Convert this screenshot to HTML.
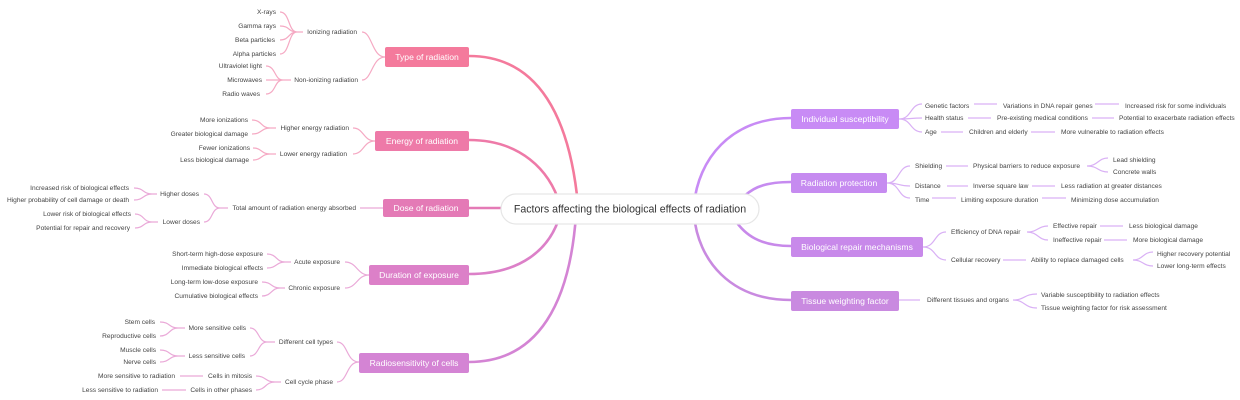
<!DOCTYPE html>
<html><head><meta charset="utf-8"><style>
html,body{margin:0;padding:0;background:#fff;}
svg{display:block;}
text{font-family:"Liberation Sans",sans-serif;font-size:6.6px;fill:#444;dominant-baseline:middle;}
.m{font-size:8.6px;fill:#fff;text-anchor:middle;}
.l{text-anchor:end;}
.lp{fill:none;stroke:#f5a9c3;stroke-width:1.2;}
.lq{fill:none;stroke:#eaa9d8;stroke-width:1.2;}
.rp{fill:none;stroke:#d9b0f5;stroke-width:1.2;}
</style></head><body>
<svg width="1240" height="400" viewBox="0 0 1240 400" xmlns="http://www.w3.org/2000/svg">
<g fill="none" stroke-width="2.6">
<path d="M469 56 C540 56 570 120 578 205" stroke="#f47a9c"/>
<path d="M469 140 C520 140 550 170 560 205" stroke="#ee7aa8"/>
<path d="M469 208 L520 208" stroke="#e47ab6"/>
<path d="M469 274 C520 274 550 250 560 215" stroke="#dc80c8"/>
<path d="M469 362 C540 362 570 300 576 215" stroke="#d484d4"/>
<path d="M791 118 C730 118 698 160 694 205" stroke="#c88bf5"/>
<path d="M791 182 C760 182 750 190 740 200" stroke="#c68bf0"/>
<path d="M791 246 C760 246 745 235 735 220" stroke="#c889ea"/>
<path d="M791 300 C730 300 698 260 694 215" stroke="#c98ae0"/>
</g>
<rect x="501" y="194" width="258" height="30" rx="15" fill="#fff" stroke="#e6e6e6" stroke-width="1.2"/>
<text x="630" y="209.5" style="font-size:10.6px;fill:#333;text-anchor:middle">Factors affecting the biological effects of radiation</text>

<rect x="385" y="47" width="84" height="20" rx="2" fill="#f47a9c"/><text class="m" x="427" y="57.5">Type of radiation</text>
<rect x="375" y="131" width="94" height="20" rx="2" fill="#ee7aa8"/><text class="m" x="422" y="141.5">Energy of radiation</text>
<rect x="383" y="199" width="86" height="18" rx="2" fill="#e47ab6"/><text class="m" x="426" y="208.5">Dose of radiation</text>
<rect x="369" y="265" width="100" height="20" rx="2" fill="#dc80c8"/><text class="m" x="419" y="275.5">Duration of exposure</text>
<rect x="359" y="353" width="110" height="20" rx="2" fill="#d484d4"/><text class="m" x="414" y="363.5">Radiosensitivity of cells</text>
<rect x="791" y="109" width="108" height="20" rx="2" fill="#c88bf5"/><text class="m" x="845" y="119.5">Individual susceptibility</text>
<rect x="791" y="173" width="96" height="20" rx="2" fill="#c68bf0"/><text class="m" x="839" y="183.5">Radiation protection</text>
<rect x="791" y="237" width="132" height="20" rx="2" fill="#c889ea"/><text class="m" x="857" y="247.5">Biological repair mechanisms</text>
<rect x="791" y="291" width="108" height="20" rx="2" fill="#c98ae0"/><text class="m" x="845" y="301.5">Tissue weighting factor</text>

<path class="lp" d="M385 57 C372 57 372 32 362 32 M385 57 C372 57 372 80 362 80"/>
<text class="l" x="357" y="32">Ionizing radiation</text>
<text class="l" x="358" y="80">Non-ionizing radiation</text>
<path class="lp" d="M303 32 L297 32 C288 32 290 12 280 12 M297 32 C288 32 290 26 280 26 M297 32 C288 32 290 40 280 40 M297 32 C288 32 290 54 280 54"/>
<text class="l" x="276" y="12">X-rays</text>
<text class="l" x="276" y="26">Gamma rays</text>
<text class="l" x="275" y="40">Beta particles</text>
<text class="l" x="276" y="54">Alpha particles</text>
<path class="lp" d="M291 80 L283 80 C274 80 276 66 266 66 M283 80 L266 80 M283 80 C274 80 276 94 266 94"/>
<text class="l" x="262" y="66">Ultraviolet light</text>
<text class="l" x="262" y="80">Microwaves</text>
<text class="l" x="260" y="94">Radio waves</text>
<path class="lp" d="M375 141 C363 141 364 128 353 128 M375 141 C363 141 364 154 353 154"/>
<text class="l" x="349" y="128">Higher energy radiation</text>
<text class="l" x="347" y="154">Lower energy radiation</text>
<path class="lp" d="M276 128 L270 128 C261 128 262 120 252 120 M270 128 C261 128 262 134 252 134 M276 154 L270 154 C261 154 262 148 253 148 M270 154 C261 154 262 160 253 160"/>
<text class="l" x="248" y="120">More ionizations</text>
<text class="l" x="248" y="134">Greater biological damage</text>
<text class="l" x="250" y="148">Fewer ionizations</text>
<text class="l" x="249" y="160">Less biological damage</text>
<path class="lq" d="M383 208 L360 208"/>
<text class="l" x="356" y="208">Total amount of radiation energy absorbed</text>
<path class="lq" d="M228 208 L220 208 C211 208 213 194 204 194 M220 208 C211 208 213 222 204 222"/>
<text class="l" x="199" y="194">Higher doses</text>
<text class="l" x="200" y="222">Lower doses</text>
<path class="lq" d="M157 194 L152 194 C143 194 144 188 134 188 M152 194 C143 194 144 200 134 200 M158 222 L152 222 C143 222 144 214 135 214 M152 222 C143 222 144 228 135 228"/>
<text class="l" x="129" y="188">Increased risk of biological effects</text>
<text class="l" x="129" y="200">Higher probability of cell damage or death</text>
<text class="l" x="131" y="214">Lower risk of biological effects</text>
<text class="l" x="130" y="228">Potential for repair and recovery</text>
<path class="lq" d="M369 275 C357 275 357 262 345 262 M369 275 C357 275 357 288 345 288"/>
<text class="l" x="340" y="262">Acute exposure</text>
<text class="l" x="340" y="288">Chronic exposure</text>
<path class="lq" d="M291 262 L285 262 C276 262 277 254 267 254 M285 262 C276 262 277 268 267 268 M285 288 L280 288 C271 288 272 282 262 282 M280 288 C271 288 272 296 262 296"/>
<text class="l" x="263" y="254">Short-term high-dose exposure</text>
<text class="l" x="263" y="268">Immediate biological effects</text>
<text class="l" x="258" y="282">Long-term low-dose exposure</text>
<text class="l" x="258" y="296">Cumulative biological effects</text>
<path class="lq" d="M359 362 C346 362 348 342 337 342 M359 362 C346 362 348 382 337 382"/>
<text class="l" x="333" y="342">Different cell types</text>
<text class="l" x="333" y="382">Cell cycle phase</text>
<path class="lq" d="M275 342 L267 342 C258 342 259 328 250 328 M267 342 C258 342 259 356 250 356"/>
<text class="l" x="246" y="328">More sensitive cells</text>
<text class="l" x="245" y="356">Less sensitive cells</text>
<path class="lq" d="M281 382 L275 382 C265 382 266 376 256 376 M275 382 C265 382 266 390 256 390"/>
<text class="l" x="252" y="376">Cells in mitosis</text>
<text class="l" x="252" y="390">Cells in other phases</text>
<path class="lq" d="M185 328 L178 328 C169 328 170 322 160 322 M178 328 C169 328 170 336 160 336 M185 356 L178 356 C169 356 170 350 160 350 M178 356 C169 356 170 362 160 362"/>
<text class="l" x="155" y="322">Stem cells</text>
<text class="l" x="156" y="336">Reproductive cells</text>
<text class="l" x="156" y="350">Muscle cells</text>
<text class="l" x="156" y="362">Nerve cells</text>
<path class="lq" d="M203 376 L180 376 M186 390 L162 390"/>
<text class="l" x="175" y="376">More sensitive to radiation</text>
<text class="l" x="158" y="390">Less sensitive to radiation</text>

<path class="rp" d="M899 119 C912 119 910 104 922 104 M899 119 C912 119 910 118 922 118 M899 119 C912 119 910 132 922 132"/>
<text x="925" y="106">Genetic factors</text>
<text x="925" y="118">Health status</text>
<text x="925" y="132">Age</text>
<path class="rp" d="M974 104 L997 104 M968 118 L991 118 M941 132 L963 132 M1095 104 L1119 104 M1092 118 L1114 118 M1031 132 L1055 132"/>
<text x="1003" y="106">Variations in DNA repair genes</text>
<text x="997" y="118">Pre-existing medical conditions</text>
<text x="969" y="132">Children and elderly</text>
<text x="1125" y="106">Increased risk for some individuals</text>
<text x="1119" y="118">Potential to exacerbate radiation effects</text>
<text x="1061" y="132">More vulnerable to radiation effects</text>
<path class="rp" d="M887 183 C900 183 898 166 910 166 M887 183 C900 183 898 186 910 186 M887 183 C900 183 898 198 910 198"/>
<text x="915" y="166">Shielding</text>
<text x="915" y="186">Distance</text>
<text x="915" y="200">Time</text>
<path class="rp" d="M946 166 L968 166 M947 186 L968 186 M932 198 L956 198 M1032 186 L1055 186 M1042 198 L1066 198"/>
<text x="973" y="166">Physical barriers to reduce exposure</text>
<text x="973" y="186">Inverse square law</text>
<text x="961" y="200">Limiting exposure duration</text>
<path class="rp" d="M1087 166 C1098 166 1098 158 1108 158 M1087 166 C1098 166 1098 172 1108 172"/>
<text x="1113" y="160">Lead shielding</text>
<text x="1113" y="172">Concrete walls</text>
<text x="1061" y="186">Less radiation at greater distances</text>
<text x="1071" y="200">Minimizing dose accumulation</text>
<path class="rp" d="M923 247 C936 247 934 232 946 232 M923 247 C936 247 934 260 946 260"/>
<text x="951" y="232">Efficiency of DNA repair</text>
<text x="951" y="260">Cellular recovery</text>
<path class="rp" d="M1027 232 C1038 232 1038 226 1048 226 M1027 232 C1038 232 1038 240 1048 240 M1100 226 L1123 226 M1104 240 L1127 240 M1003 260 L1026 260 M1133 260 C1143 260 1143 252 1153 252 M1133 260 C1143 260 1143 266 1153 266"/>
<text x="1053" y="226">Effective repair</text>
<text x="1053" y="240">Ineffective repair</text>
<text x="1129" y="226">Less biological damage</text>
<text x="1133" y="240">More biological damage</text>
<text x="1031" y="260">Ability to replace damaged cells</text>
<text x="1157" y="254">Higher recovery potential</text>
<text x="1157" y="266">Lower long-term effects</text>
<path class="rp" d="M899 300 L920 300 M1013 300 C1025 300 1024 294 1037 294 M1013 300 C1025 300 1024 308 1037 308"/>
<text x="927" y="300">Different tissues and organs</text>
<text x="1041" y="295">Variable susceptibility to radiation effects</text>
<text x="1041" y="308">Tissue weighting factor for risk assessment</text>
</svg>
</body></html>
